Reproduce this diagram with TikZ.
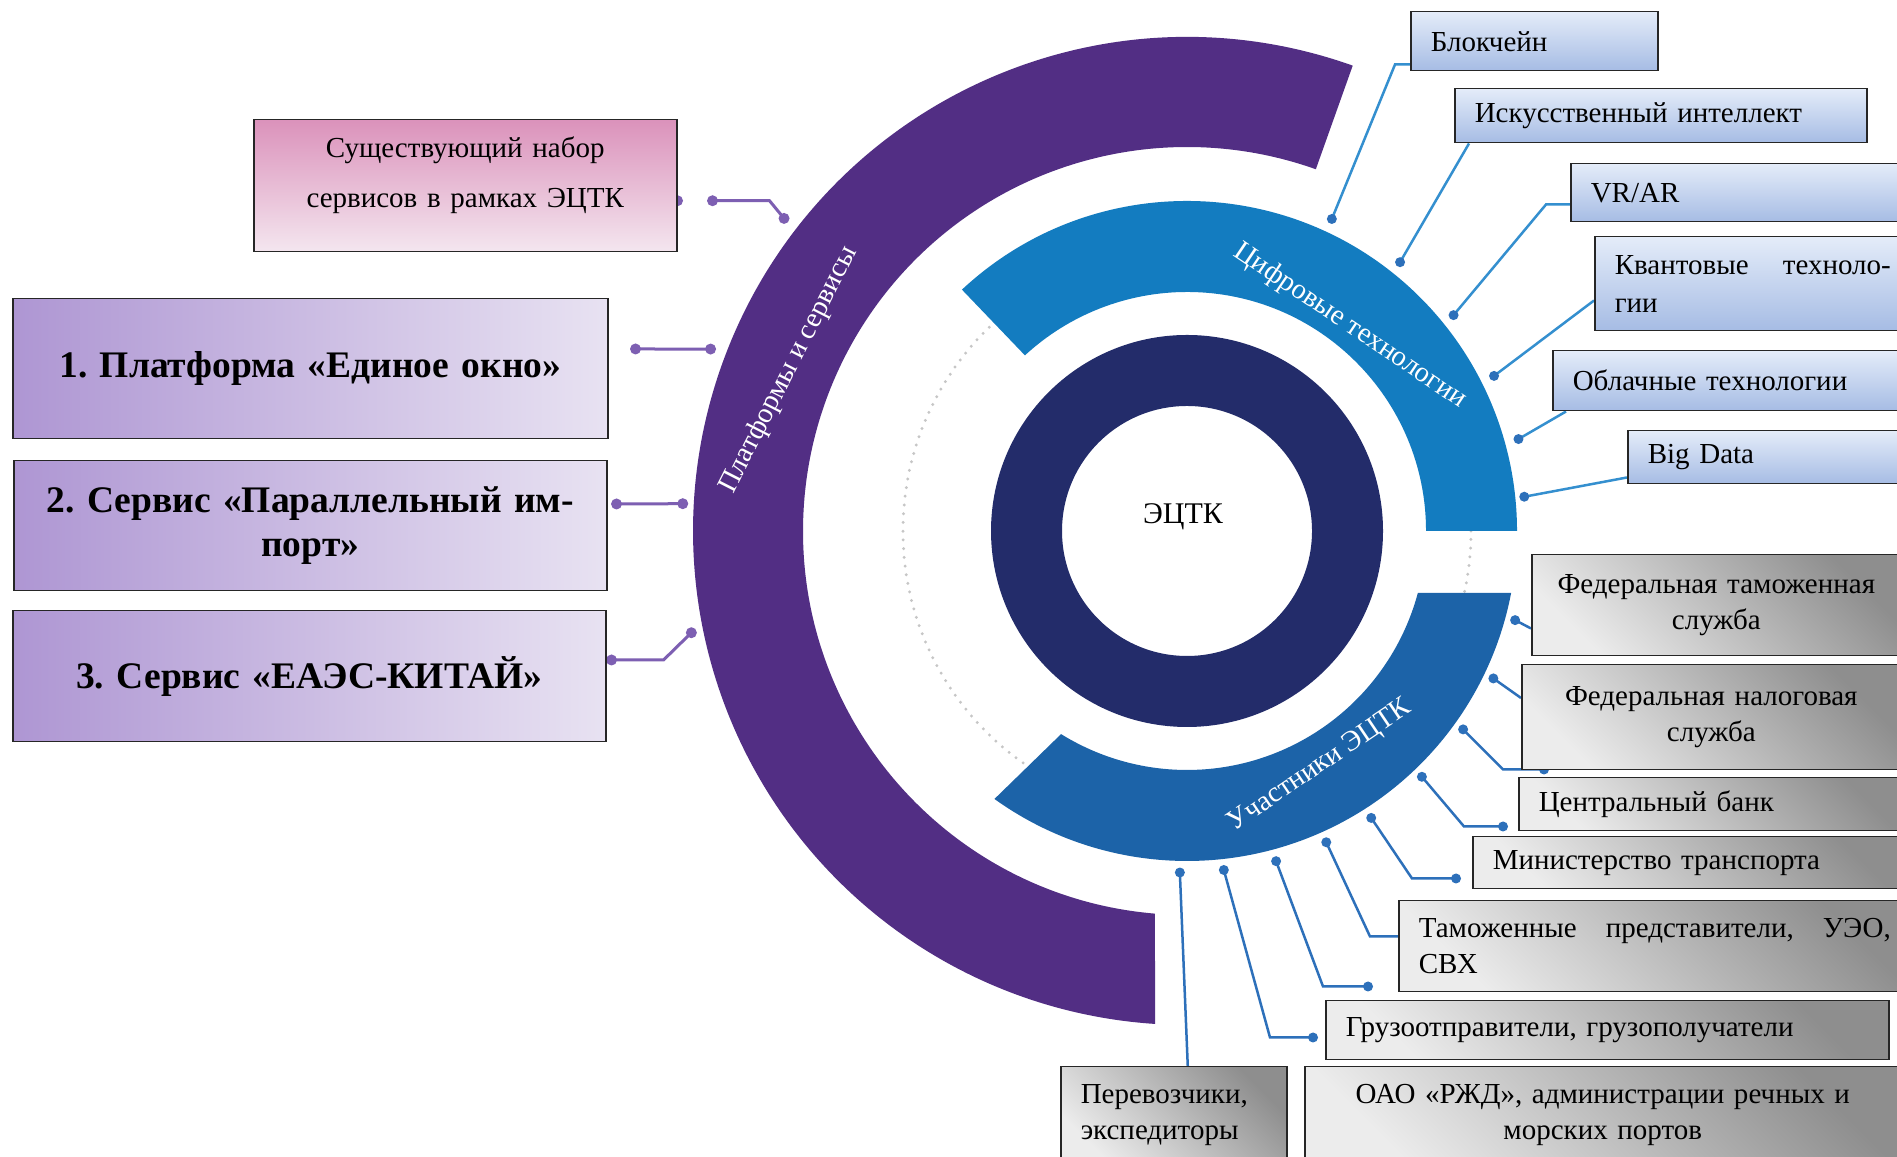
\documentclass[tikz,border=0pt]{standalone}
\usepackage{fontspec}
\setmainfont{Liberation Serif}
\usepackage{tikz}
\usetikzlibrary{calc}
\usetikzlibrary{backgrounds}
\frenchspacing

\definecolor{ringpurple}{RGB}{82,46,132}
\definecolor{ringblue}{RGB}{19,124,192}
\definecolor{ringdeep}{RGB}{28,99,168}
\definecolor{ringnavy}{RGB}{35,44,106}
\definecolor{linkpurple}{RGB}{125,95,178}
\definecolor{linkblue}{RGB}{52,143,207}
\definecolor{linkdeep}{RGB}{45,112,186}
\definecolor{lilacL}{RGB}{174,150,211}
\definecolor{lilacR}{RGB}{232,226,242}
\definecolor{pinkT}{RGB}{219,146,187}
\definecolor{pinkB}{RGB}{244,230,239}
\definecolor{skyT}{RGB}{228,236,249}
\definecolor{skyB}{RGB}{166,188,228}
\definecolor{greyD}{RGB}{142,142,142}
\definecolor{greyL}{RGB}{236,236,236}

\tikzset{
  boxline/.style={draw=black!85, line width=0.6pt, anchor=north west},
  svc/.style={boxline, inner xsep=8pt, align=center, left color=lilacL, right color=lilacR,
    font=\bfseries\fontsize{15}{17.6}\selectfont},
  tech/.style={boxline, inner xsep=8pt, align=left, top color=skyT, bottom color=skyB,
    font=\fontsize{11.6}{15.2}\selectfont},
  memb/.style={boxline, inner xsep=8pt, align=left, top color=greyD, bottom color=greyL,
    shading angle=-45, font=\fontsize{11.6}{14.4}\selectfont},
  arctext/.style={text=white, font=\fontsize{11.4}{14}\selectfont},
  plink/.style={linkpurple, line width=1.2pt},
  tlink/.style={linkblue, line width=1pt},
  mlink/.style={linkdeep, line width=1pt}
}

\begin{document}
\begin{tikzpicture}[x=0.4pt, y=0.4pt]
  \useasboundingbox (0,0) rectangle (1897,1157);
  %centre of the rings
  \coordinate (c) at (1187, 626);

  %dotted guide circle
  \draw[gray!45, line width=1.3pt, dash pattern=on 0pt off 3.5pt, line cap=round] (c) circle (284);

  %purple ring
  \fill[ringpurple] ($(c)+(70.4:494)$) arc[start angle=70.4, end angle=266.3, radius=494]
    -- ($(c)+(265.2:384)$) arc[start angle=265.2, end angle=70.4, radius=384] -- cycle;
  %upper blue ring
  \fill[ringblue] ($(c)+(133:330)$) arc[start angle=133, end angle=0, radius=330]
    -- ($(c)+(0:239)$) arc[start angle=0, end angle=132.7, radius=239] -- cycle;
  %lower blue ring
  \fill[ringdeep] ($(c)+(-10.8:330)$) arc[start angle=-10.8, end angle=-125.7, radius=330]
    -- ($(c)+(-121.8:239)$) arc[start angle=-121.8, end angle=-15, radius=239] -- cycle;
  %inner ring
  \fill[ringnavy, even odd rule] (c) circle (196) (c) circle (125);

  %annotating rings
  \node (ectk) at (1183, 640) {\fontsize{12}{14}\selectfont ЭЦТК};
  \node[arctext, rotate=63] (plat) at (789, 787) {Платформы и сервисы};
  \node[arctext, rotate=-34] (cifr) at (1350, 831) {Цифровые технологии};
  \node[arctext, rotate=34] (uchast) at (1320, 391) {Участники ЭЦТК};

  %services on the left
  \node[boxline, align=center, top color=pinkT, bottom color=pinkB, inner xsep=8pt,
    text width=153.2pt, minimum height=52.8pt, text depth=31pt, font=\fontsize{11.6}{20}\selectfont]
    (nabor) at (253, 1038) {Существующий набор\\сервисов в рамках ЭЦТК};
  \node[svc, text width=222pt, minimum height=56pt] (okno) at (12, 859)
    {1. Платформа «Единое окно»};
  \node[svc, text width=221.2pt, minimum height=52pt] (import) at (13, 697)
    {2. Сервис «Параллельный им-\\порт»};
  \node[svc, text width=221.2pt, minimum height=52.4pt] (kitai) at (12, 547)
    {3. Сервис «ЕАЭС-КИТАЙ»};

  %digital technologies
  \node[tech, text width=82.8pt, minimum height=23.6pt] (blok) at (1410, 1146) {Блокчейн};
  \node[tech, text width=148.8pt, minimum height=21.6pt] (ii) at (1454, 1069) {Искусственный интеллект};
  \node[tech, text width=120pt, minimum height=23.2pt] (vrar) at (1570, 994) {VR/AR};
  \node[tech, text width=110.4pt, minimum height=37.6pt] (kvant) at (1594, 921)
    {Квантовые\hfill техноло-\\гии};
  \node[tech, text width=127.2pt, minimum height=24pt] (oblako) at (1552, 807) {Облачные технологии};
  \node[tech, text width=97.2pt, minimum height=21.2pt] (bigdata) at (1627, 727) {Big Data};

  %participants
  \node[memb, align=center, text width=131.6pt, minimum height=40.4pt] (fts) at (1531, 603)
    {Федеральная таможенная\\служба};
  \node[memb, align=center, text width=135.6pt, minimum height=42pt] (fns) at (1521, 493)
    {Федеральная налоговая\\служба};
  \node[memb, text width=140.8pt, minimum height=21.2pt] (cb) at (1518, 380) {Центральный банк};
  \node[memb, text width=159.2pt, minimum height=20.8pt] (mintrans) at (1472, 321)
    {Министерство транспорта};
  \node[memb, text width=188.8pt, minimum height=36.4pt] (tamozh) at (1398, 257)
    {Таможенные\hfill представители,\hfill УЭО,\\СВХ};
  \node[memb, text width=209.2pt, minimum height=23.6pt] (gruz) at (1325, 157)
    {Грузоотправители, грузополучатели};
  \node[memb, align=center, text width=222.4pt, minimum height=38.4pt] (rzd) at (1304, 91)
    {ОАО «РЖД», администрации речных и\\морских портов};
  \node[memb, text width=74.4pt, minimum height=38.4pt] (perev) at (1060, 91)
    {Перевозчики,\\экспедиторы};

  \begin{pgfonlayer}{background}
  \fill[white] (0,0) rectangle (1897,1157);
  %linking services
  \coordinate (pa) at ($(c)+(142.2:510)$);
  \coordinate (pb) at ($(c)+(159.1:510)$);
  \coordinate (pc) at ($(c)+(176.9:505)$);
  \coordinate (pd) at ($(c)+(191.6:506)$);
  \draw[plink] (pa) -- ($(nabor.east)+(92,-15)$) -- ($(nabor.east)+(35,-15)$);
  \fill[linkpurple] (pa) circle (2.2pt) ($(nabor.east)+(35,-15)$) circle (2.2pt)
    ($(nabor.east)+(0,-15)$) circle (2.2pt);
  \draw[plink] ($(okno.north east)+(27,-51)$) -- (pb);
  \fill[linkpurple] ($(okno.north east)+(27,-51)$) circle (2.2pt) (pb) circle (2.2pt);
  \draw[plink] ($(import.north east)+(9,-44)$) -- (pc);
  \fill[linkpurple] ($(import.north east)+(9,-44)$) circle (2.2pt) (pc) circle (2.2pt);
  \draw[plink] ($(kitai.north east)+(5,-50)$) -- ($(kitai.north east)+(57,-50)$) -- (pd);
  \fill[linkpurple] ($(kitai.north east)+(5,-50)$) circle (2.2pt) (pd) circle (2.2pt);

  %linking technologies
  \coordinate (ta) at ($(c)+(65.1:344)$);
  \coordinate (tb) at ($(c)+(51.6:343)$);
  \coordinate (tc) at ($(c)+(39:343)$);
  \coordinate (td) at ($(c)+(26.8:344)$);
  \coordinate (te) at ($(c)+(15.5:344)$);
  \coordinate (tf) at ($(c)+(5.8:339)$);
  \draw[tlink] (ta) -- ($(blok.south west)+(-15,7)$) -- ($(blok.south west)+(0,7)$);
  \draw[tlink] (tb) -- ($(ii.south west)+(15,0)$);
  \draw[tlink] (tc) -- ($(vrar.south west)+(-24,18)$) -- ($(vrar.south west)+(0,18)$);
  \draw[tlink] (td) -- ($(kvant.south west)+(0,31)$);
  \draw[tlink] (te) -- ($(oblako.south west)+(14,0)$);
  \draw[tlink] (tf) -- ($(bigdata.south west)+(0,7)$);
  \fill[linkdeep] (ta) circle (2pt) (tb) circle (2pt) (tc) circle (2pt)
    (td) circle (2pt) (te) circle (2pt) (tf) circle (2pt);

  %linking participants
  \coordinate (ma) at ($(c)+(-15.2:340)$);
  \coordinate (mb) at ($(c)+(-25.7:340)$);
  \coordinate (mc) at ($(c)+(-35.7:340)$);
  \coordinate (md) at ($(c)+(-46.3:340)$);
  \coordinate (me) at ($(c)+(-57.3:341)$);
  \coordinate (mf) at ($(c)+(-65.9:341)$);
  \coordinate (mg) at ($(c)+(-74.9:342)$);
  \coordinate (mh) at ($(c)+(-83.8:341)$);
  \coordinate (mi) at ($(c)+(-91.2:341.6)$);
  \draw[mlink] (ma) -- ($(fts.south west)+(0,28)$);
  \draw[mlink] (mb) -- ($(fns.north west)+(0,-34)$);
  \draw[mlink] (mc) -- ($(fns.south west)+(-18,1)$) -- ($(fns.south west)+(23,1)$);
  \draw[mlink] (md) -- ($(cb.south west)+(-54,5)$) -- ($(cb.south west)+(-15,5)$);
  \draw[mlink] (me) -- ($(mintrans.south west)+(-60,11)$) -- ($(mintrans.south west)+(-16,11)$);
  \draw[mlink] (mf) -- ($(tamozh.south west)+(-28,56)$) -- ($(tamozh.south west)+(0,56)$);
  \draw[mlink] (mg) -- ($(tamozh.south west)+(-75,6)$) -- ($(tamozh.south west)+(-30,6)$);
  \draw[mlink] (mh) -- ($(gruz.south west)+(-55,23)$) -- ($(gruz.south west)+(-12,23)$);
  \draw[mlink] (mi) -- ($(perev.north)+(14,0)$);
  \fill[linkdeep] (ma) circle (2pt) (mb) circle (2pt) (mc) circle (2pt)
    (md) circle (2pt) (me) circle (2pt) (mf) circle (2pt)
    (mg) circle (2pt) (mh) circle (2pt) (mi) circle (2pt);
  \fill[linkdeep] ($(fns.south west)+(23,1)$) circle (2pt)
    ($(cb.south west)+(-15,5)$) circle (2pt)
    ($(mintrans.south west)+(-16,11)$) circle (2pt)
    ($(tamozh.south west)+(-30,6)$) circle (2pt)
    ($(gruz.south west)+(-12,23)$) circle (2pt);
  \end{pgfonlayer}
\end{tikzpicture}
\end{document}
